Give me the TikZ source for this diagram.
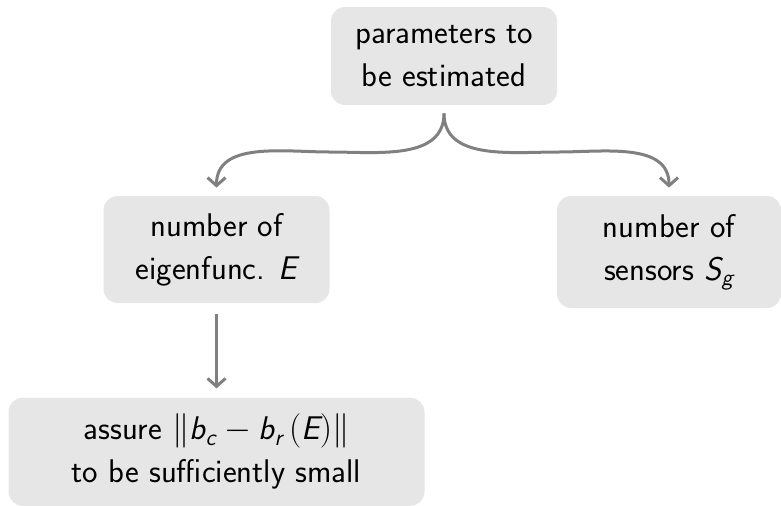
\documentclass[tikz,border=0pt]{standalone}
\usepackage{amsmath}
\usetikzlibrary{positioning,arrows.meta}
\definecolor{boxgray}{RGB}{230,230,230}
\definecolor{arrowgray}{RGB}{128,128,128}
\newcommand{\mv}[1]{\text{\sffamily\slshape #1}}

\begin{document}
\begin{tikzpicture}[
  x=0.5pt,y=-0.5pt,
  every node/.style={font=\sffamily\fontsize{16.4}{21.5}\selectfont},
  box/.style={fill=boxgray,rounded corners=7pt,align=center,minimum width=113pt,minimum height=49pt},
  arrow/.style={-{Straight Barb[length=4pt,width=9pt]},line width=1.5pt,arrowgray}
]
  \useasboundingbox (0,0) rectangle (781,505);
  \node[box] (param) at (444,56) {parameters to\\be estimated};
  \node[box,minimum height=53.5pt] (eigen) at (216.5,249.5) {number of\\eigenfunc. $\mv{E}$};
  \node[box,minimum width=112pt,minimum height=56pt] (sensors) at (669,252) {number of\\sensors $\mv{S}_{\mv{g}}$};
  \node[box,minimum width=208pt,minimum height=54pt,below=47pt of eigen] (assure) {assure $\|\mv{b}_{\mv{c}}-\mv{b}_{\mv{r}}\,(\mv{E})\|$\\to be sufficiently small};
  \coordinate[below=4pt of param] (fork);
  \draw[arrow] (fork) to[out=-90,in=0] (330,152) to[out=180,in=90] ([yshift=4pt]eigen.north);
  \draw[arrow] (fork) to[out=-90,in=180] (558,152) to[out=0,in=90] ([yshift=4pt]sensors.north);
  \draw[arrow] ([yshift=-5.5pt]eigen.south) -- ([yshift=4.5pt]assure.north);
\end{tikzpicture}
\end{document}
